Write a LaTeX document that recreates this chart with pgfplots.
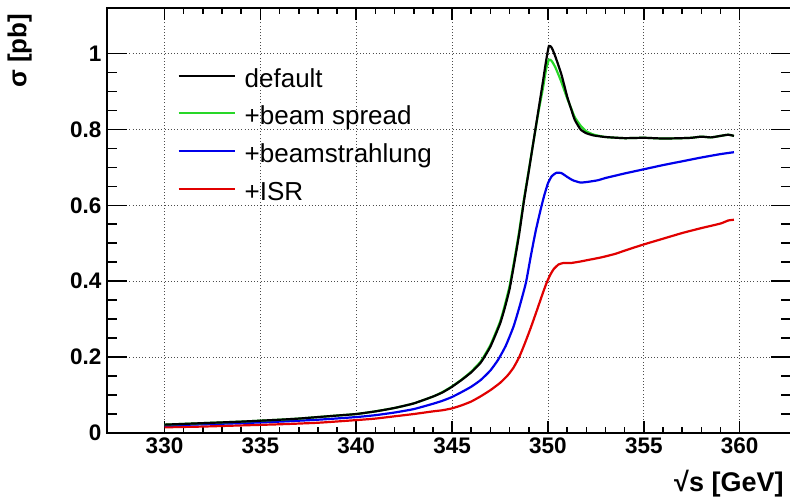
\documentclass[border=0pt]{standalone}
\usepackage{pgfplots}
\pgfplotsset{compat=1.18}
\usepackage{fontspec}
\setmainfont{Liberation Sans}

\definecolor{rootgreen}{RGB}{40,215,40}
\definecolor{rootblue}{RGB}{0,0,235}
\definecolor{rootred}{RGB}{225,0,0}

% sigma(sqrt s) near the top-pair threshold
\pgfplotstableread{
x      y
330    0.022
332    0.026
334    0.030
336    0.035
337    0.038
338    0.042
339    0.046
340    0.050
341    0.057
342    0.066
343    0.078
344    0.096
344.5  0.107
345    0.122
345.5  0.140
346    0.160
346.5  0.186
347    0.228
347.5  0.288
347.75 0.330
348    0.380
348.25 0.450
348.5  0.525
348.75 0.612
349    0.690
349.25 0.770
349.5  0.850
349.75 0.930
349.9  0.980
350.05 1.020
350.2  1.015
350.4  0.990
350.7  0.945
351.0  0.887
351.2  0.855
351.4  0.825
351.7  0.800
352.0  0.790
352.4  0.784
353    0.780
354    0.777
355    0.778
356    0.776
357    0.777
357.5  0.778
358    0.781
358.5  0.779
359    0.783
359.4  0.786
359.7  0.783
}\tdefault

\pgfplotstableread{
x      y
330    0.022
332    0.026
334    0.030
336    0.035
337    0.038
338    0.042
339    0.046
340    0.050
341    0.057
342    0.066
343    0.078
344    0.096
344.5  0.108
345    0.123
345.5  0.141
346    0.162
346.5  0.189
347    0.232
347.5  0.293
347.75 0.337
348    0.388
348.25 0.457
348.5  0.532
348.75 0.617
349    0.693
349.25 0.770
349.5  0.845
349.75 0.912
349.9  0.958
350.05 0.984
350.2  0.980
350.4  0.962
350.7  0.925
351.0  0.882
351.2  0.857
351.4  0.832
351.7  0.810
352.0  0.795
352.4  0.786
353    0.780
354    0.777
355    0.778
356    0.776
357    0.777
357.5  0.778
358    0.781
358.5  0.779
359    0.783
359.4  0.786
359.7  0.783
}\tspread

\pgfplotstableread{
x      y
330    0.020
332    0.023
334    0.026
336    0.030
338    0.035
340    0.042
341    0.047
342    0.054
343    0.063
344    0.077
344.5  0.085
345    0.095
345.5  0.108
346    0.122
346.5  0.140
347    0.165
347.4  0.193
347.8  0.230
348.2  0.280
348.5  0.330
348.85 0.396
349.1  0.465
349.35 0.530
349.6  0.585
349.8  0.625
350.0  0.658
350.2  0.677
350.45 0.686
350.7  0.685
351.0  0.675
351.3  0.666
351.7  0.660
352.1  0.662
352.6  0.666
353    0.672
353.5  0.678
354    0.684
355    0.695
356    0.706
357    0.716
358    0.726
359    0.735
359.7  0.740
}\tbeam

\pgfplotstableread{
x      y
330    0.015
332    0.017
334    0.020
336    0.023
338    0.027
340    0.034
341    0.038
342    0.044
343    0.050
344    0.057
344.5  0.060
345    0.065
345.5  0.073
346    0.083
346.5  0.097
347    0.113
347.5  0.132
347.9  0.152
348.2  0.172
348.5  0.200
348.8  0.237
349.1  0.277
349.4  0.320
349.7  0.364
349.9  0.392
350.1  0.415
350.3  0.432
350.55 0.444
350.8  0.448
351.2  0.448
351.7  0.452
352.2  0.457
352.8  0.463
353.5  0.472
354.2  0.484
355    0.497
356    0.512
357    0.527
358    0.540
359    0.552
359.4  0.560
359.7  0.562
}\tisr

\begin{document}
\begin{tikzpicture}
\useasboundingbox (-107pt,-66pt) rectangle (683pt,433pt);
\begin{axis}[
  at={(0,0)}, anchor=south west,
  scale only axis,
  width=683.5pt, height=425pt,
  xmin=327, xmax=362.65,
  ymin=0, ymax=1.12,
  xtick={330,335,...,360},
  ytick={0,0.2,...,1.0},
  minor x tick num=4,
  minor y tick num=3,
  tick align=inside,
  xtick pos=both, ytick pos=both,
  major tick length=20pt,
  minor tick length=10pt,
  x tick style={/pgfplots/major tick length=12pt,/pgfplots/minor tick length=6pt},
  tick style={black, line width=1.6pt},
  axis line style={line width=2pt},
  grid=major,
  grid style={line width=0.9pt, black!70, dash pattern=on 1pt off 2.2pt},
  /pgf/number format/assume math mode=true,
  tick label style={font=\bfseries\fontsize{22.5}{27}\selectfont},
  yticklabel style={xshift=-2pt},
  xticklabel style={yshift=-1pt},
  ylabel={\textbf{σ [pb]}},
  ylabel style={at={(rel axis cs:-0.105,0.995)}, anchor=south east,
                font=\bfseries\fontsize{26}{30}\selectfont},
  xlabel={\textbf{√s [GeV]}},
  xlabel style={at={(rel axis cs:0.995,-0.08)}, anchor=north east,
                font=\bfseries\fontsize{27}{31}\selectfont},
  legend style={draw=none, fill=none, inner sep=0pt,
                at={(rel axis cs:0.1028,0.859)}, anchor=north west,
                font=\fontsize{26}{30}\selectfont,
                row sep=12.7pt, column sep=9pt,
                nodes={inner sep=0pt, text height=19pt, text depth=6pt}},
  legend cell align=left,
  legend image code/.code={\draw[#1] (0pt,5pt) -- (56pt,5pt);},
  every axis plot/.append style={line width=2.2pt},
]
\addlegendimage{black}
\addlegendentry{default}
\addlegendimage{rootgreen}
\addlegendentry{+beam spread}
\addlegendimage{rootblue}
\addlegendentry{+beamstrahlung}
\addlegendimage{rootred}
\addlegendentry{+ISR}

\addplot[rootred, forget plot, smooth, tension=0.3] table {\tisr};
\addplot[rootblue, forget plot, smooth, tension=0.3] table {\tbeam};
\addplot[rootgreen, forget plot, smooth, tension=0.3] table {\tspread};
\addplot[black, forget plot, smooth, tension=0.3] table {\tdefault};
\end{axis}
\end{tikzpicture}
\end{document}
